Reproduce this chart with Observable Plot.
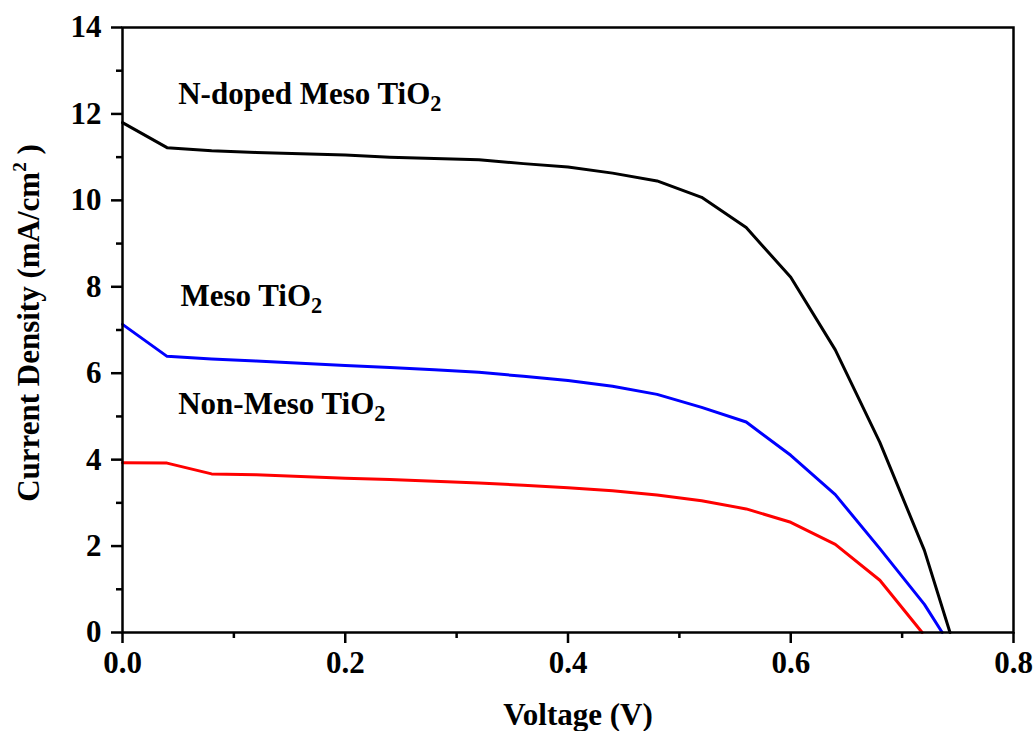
<!DOCTYPE html>
<html><head><meta charset="utf-8">
<script src="https://cdn.jsdelivr.net/npm/d3@7"></script>
<script src="https://cdn.jsdelivr.net/npm/@observablehq/plot@0.6"></script>
<style>body{margin:0;background:#fff}</style>
</head><body><div id="chart"></div>
<script>
// Data
const vNdoped = [0,0.04,0.08,0.12,0.16,0.20,0.24,0.28,0.32,0.36,0.40,0.44,0.48,0.52,0.56,0.60,0.64,0.68,0.72,0.743];
const jNdoped = [11.8,11.22,11.15,11.11,11.08,11.05,11.0,10.97,10.94,10.85,10.77,10.63,10.45,10.07,9.37,8.22,6.54,4.40,1.90,0];
const vMeso = [0,0.04,0.08,0.12,0.16,0.20,0.24,0.28,0.32,0.36,0.40,0.44,0.48,0.52,0.56,0.60,0.64,0.68,0.72,0.736];
const jMeso = [7.13,6.39,6.33,6.28,6.23,6.18,6.13,6.08,6.02,5.93,5.83,5.70,5.51,5.21,4.87,4.10,3.19,1.94,0.65,0];
const vNonMeso = [0,0.04,0.08,0.12,0.16,0.20,0.24,0.28,0.32,0.36,0.40,0.44,0.48,0.52,0.56,0.60,0.64,0.68,0.718];
const jNonMeso = [3.93,3.92,3.67,3.65,3.61,3.57,3.54,3.50,3.46,3.41,3.35,3.28,3.18,3.05,2.86,2.55,2.04,1.21,0];

const seriesNames = ["N-doped Meso TiO₂", "Meso TiO₂", "Non-Meso TiO₂"];
const seriesColors = ["#000000", "#0000ff", "#ff0000"];
// annotation anchors in data space (voltage, current density)
const labelV = [0.050, 0.052, 0.050];
const labelJ = [12.22, 7.55, 5.05];

const xMajor = [0, 0.2, 0.4, 0.6, 0.8];
const xMinor = [0.1, 0.3, 0.5, 0.7];
const yMajor = [0, 2, 4, 6, 8, 10, 12, 14];
const yMinor = [1, 3, 5, 7, 9, 11, 13];

const rows = [];
[[vNdoped, jNdoped], [vMeso, jMeso], [vNonMeso, jNonMeso]].forEach(([vs, js], k) => {
  vs.forEach((v, i) => rows.push({series: seriesNames[k], v, j: js[i]}));
});
const labels = seriesNames.map((name, k) => ({name, v: labelV[k], j: labelJ[k]}));

const font = "'Liberation Serif', 'Times New Roman', serif";
const fs = 31;
const chart = Plot.plot({
  width: 1035,
  height: 731,
  marginLeft: 122,
  marginRight: 22,
  marginTop: 27,
  marginBottom: 99,
  style: {fontFamily: font, fontWeight: "bold", fontSize: fs + "px", color: "#000", background: "#fff"},
  x: {domain: [0, 0.8]},
  y: {domain: [0, 14]},
  color: {domain: seriesNames, range: seriesColors},
  marks: [
    Plot.axisX({ticks: xMajor, tickSize: 11, tickPadding: 7, tickFormat: d3.format(".1f"), label: null, strokeWidth: 2.5, fontSize: fs, fontWeight: "bold"}),
    Plot.axisX({ticks: xMinor, tickSize: 6, text: null, label: null, strokeWidth: 2.5}),
    Plot.axisY({ticks: yMajor, tickSize: 11, tickPadding: 10, tickFormat: d3.format("d"), label: null, strokeWidth: 2.5, fontSize: fs, fontWeight: "bold"}),
    Plot.axisY({ticks: yMinor, tickSize: 6, text: null, label: null, strokeWidth: 2.5}),
    Plot.line(rows, {x: "v", y: "j", z: "series", stroke: "series", strokeWidth: 3}),
    Plot.frame({stroke: "#000", strokeWidth: 2.5}),
    Plot.text(labels, {x: "v", y: "j", text: "name", textAnchor: "start", lineAnchor: "bottom", fontSize: fs, fontWeight: "bold", fill: "#000"}),
    Plot.text(["Voltage (V)"], {frameAnchor: "bottom", dy: 92, dx: 10, textAnchor: "middle", lineAnchor: "bottom", fontSize: fs, fontWeight: "bold", fill: "#000"}),
    Plot.text(["Current Density (mA/cm²)"], {frameAnchor: "left", dx: -93, dy: -7, rotate: -90, textAnchor: "middle", lineAnchor: "middle", fontSize: fs, fontWeight: "bold", fill: "#000"})
  ]
});

// Render sub/superscripts with tspans
chart.querySelectorAll("text").forEach(t => {
  const s = t.textContent;
  if (s.includes("₂")) {
    const [a, b] = s.split("₂");
    t.textContent = a;
    const sub = document.createElementNS("http://www.w3.org/2000/svg", "tspan");
    sub.setAttribute("font-size", "0.72em");
    sub.setAttribute("dy", "0.3em");
    sub.textContent = "2";
    t.appendChild(sub);
    if (b) t.appendChild(document.createTextNode(b));
  } else if (s.includes("²")) {
    const [a, b] = s.split("²");
    t.textContent = a;
    const sup = document.createElementNS("http://www.w3.org/2000/svg", "tspan");
    sup.setAttribute("font-size", "0.62em");
    sup.setAttribute("dy", "-0.7em");
    sup.textContent = "2";
    t.appendChild(sup);
    const rest = document.createElementNS("http://www.w3.org/2000/svg", "tspan");
    rest.setAttribute("dy", "0.434em");
    rest.textContent = " " + b;
    t.appendChild(rest);
  }
});
document.getElementById("chart").appendChild(chart);
</script>
</body></html>
